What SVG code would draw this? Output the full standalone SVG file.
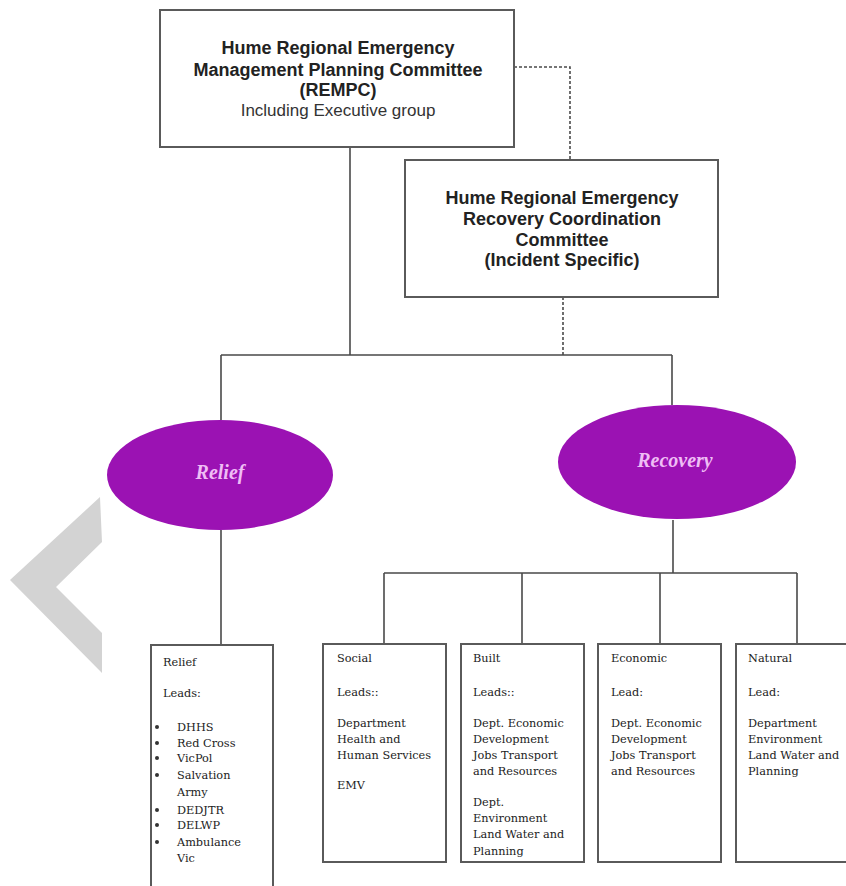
<svg xmlns="http://www.w3.org/2000/svg" width="846" height="886" viewBox="0 0 846 886">
<style>
.box{fill:#fff;stroke:#5a5a5a;stroke-width:2}
.ln{fill:none;stroke:#4a4a4a;stroke-width:1.6}
.dash{fill:none;stroke:#4a4a4a;stroke-width:1.6;stroke-dasharray:3 2}
.hb{font-family:"Liberation Sans",Arial,sans-serif;font-weight:bold;font-size:18px;fill:#222;text-anchor:middle}
.hr{font-family:"Liberation Sans",Arial,sans-serif;font-size:17px;fill:#333;text-anchor:middle}
.ell{fill:#9b12b3}
.et{font-family:"Liberation Serif","Times New Roman",serif;font-style:italic;font-weight:bold;font-size:20px;fill:#efbdf5;text-anchor:middle}
.st{font-family:"DejaVu Serif","Liberation Serif",serif;font-size:11.3px;fill:#222}
</style>
<rect width="846" height="886" fill="#fff"/>
<polygon id="chevron" points="100,497 102,542 56,587 102,633 102,673 10,580" fill="#d3d3d3"/>
<g id="connectors">
<path class="ln" d="M350,147 V355 M221,355 H672 M221,355 V420 M672,355 V405 M221,530 V645 M673,520 V573 M384,573 H797 M384,573 V644 M522,573 V644 M660,573 V644 M797,573 V644"/>
<path class="dash" d="M514,67 H570 V160 M563,297 V355"/>
</g>
<g id="rempc">
<rect class="box" x="160" y="10" width="354" height="137"/>
<text class="hb" x="338" y="54">Hume Regional Emergency</text>
<text class="hb" x="338" y="76">Management Planning Committee</text>
<text class="hb" x="338" y="96">(REMPC)</text>
<text class="hr" x="338" y="116">Including Executive group</text>
</g>
<g id="rercc">
<rect class="box" x="405" y="160" width="313" height="137"/>
<text class="hb" x="562" y="204">Hume Regional Emergency</text>
<text class="hb" x="562" y="225">Recovery Coordination</text>
<text class="hb" x="562" y="246">Committee</text>
<text class="hb" x="562" y="266">(Incident Specific)</text>
</g>
<g id="relief">
<ellipse class="ell" cx="220" cy="475" rx="113" ry="55"/>
<text class="et" x="220" y="479">Relief</text>
</g>
<g id="recovery">
<ellipse class="ell" cx="677" cy="462" rx="119" ry="57"/>
<text class="et" x="675" y="467">Recovery</text>
</g>
<g id="relief-box">
<rect class="box" x="151" y="645" width="122" height="260"/>
<text class="st" x="163" y="666">Relief</text>
<text class="st" x="163" y="697">Leads:</text>
<g fill="#333">
<circle cx="157" cy="727" r="2"/><circle cx="157" cy="743" r="2"/><circle cx="157" cy="758" r="2"/><circle cx="157" cy="775" r="2"/><circle cx="157" cy="810" r="2"/><circle cx="157" cy="825" r="2"/><circle cx="157" cy="842" r="2"/>
</g>
<text class="st" x="177" y="731">DHHS</text>
<text class="st" x="177" y="747">Red Cross</text>
<text class="st" x="177" y="762">VicPol</text>
<text class="st" x="177" y="779">Salvation</text>
<text class="st" x="177" y="796">Army</text>
<text class="st" x="177" y="814">DEDJTR</text>
<text class="st" x="177" y="829">DELWP</text>
<text class="st" x="177" y="846">Ambulance</text>
<text class="st" x="177" y="862">Vic</text>
</g>
<g id="social">
<rect class="box" x="323" y="644" width="123" height="218"/>
<text class="st" x="337" y="662">Social</text>
<text class="st" x="337" y="696">Leads::</text>
<text class="st" x="337" y="727">Department</text>
<text class="st" x="337" y="743">Health and</text>
<text class="st" x="337" y="759">Human Services</text>
<text class="st" x="337" y="789">EMV</text>
</g>
<g id="built">
<rect class="box" x="461" y="644" width="123" height="218"/>
<text class="st" x="473" y="662">Built</text>
<text class="st" x="473" y="696">Leads::</text>
<text class="st" x="473" y="727">Dept. Economic</text>
<text class="st" x="473" y="743">Development</text>
<text class="st" x="473" y="759">Jobs Transport</text>
<text class="st" x="473" y="775">and Resources</text>
<text class="st" x="473" y="806">Dept.</text>
<text class="st" x="473" y="822">Environment</text>
<text class="st" x="473" y="838">Land Water and</text>
<text class="st" x="473" y="855">Planning</text>
</g>
<g id="economic">
<rect class="box" x="598" y="644" width="123" height="218"/>
<text class="st" x="611" y="662">Economic</text>
<text class="st" x="611" y="696">Lead:</text>
<text class="st" x="611" y="727">Dept. Economic</text>
<text class="st" x="611" y="743">Development</text>
<text class="st" x="611" y="759">Jobs Transport</text>
<text class="st" x="611" y="775">and Resources</text>
</g>
<g id="natural">
<rect class="box" x="736" y="644" width="123" height="218"/>
<text class="st" x="748" y="662">Natural</text>
<text class="st" x="748" y="696">Lead:</text>
<text class="st" x="748" y="727">Department</text>
<text class="st" x="748" y="743">Environment</text>
<text class="st" x="748" y="759">Land Water and</text>
<text class="st" x="748" y="775">Planning</text>
</g>
</svg>
